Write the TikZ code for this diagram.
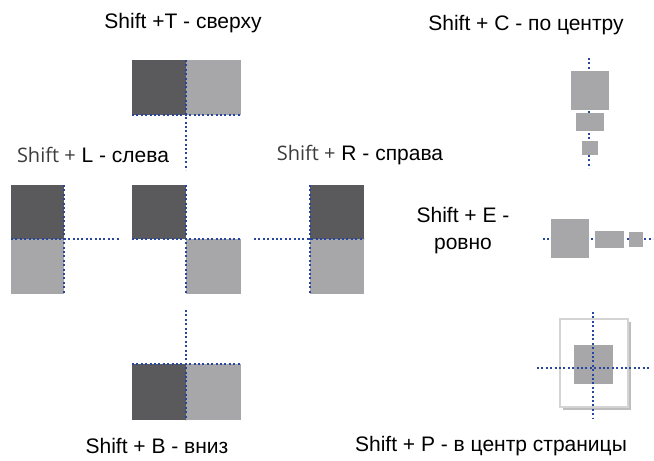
\documentclass[tikz,border=0pt]{standalone}
\usepackage{fontspec}
\setmainfont{Liberation Sans}
\newfontfamily\segoe{Open Sans}
\usepackage{xcolor}
\usepackage{tikz}
\usetikzlibrary{positioning}

\definecolor{darksq}{RGB}{90,90,92}
\definecolor{lightsq}{RGB}{167,167,169}
\definecolor{dotblue}{RGB}{40,70,160}
\definecolor{pageline}{RGB}{212,212,212}
\definecolor{pageshadow}{RGB}{190,190,190}
\definecolor{shiftgray}{RGB}{60,60,60}

\tikzset{
  sq/.style 2 args={draw=none,inner sep=0pt,outer sep=0pt,anchor=north west,
    minimum width=#1,minimum height=#2},
  dk/.style={fill=darksq},
  lt/.style={fill=lightsq},
  dots/.style={dotblue,line width=2.4pt,dash pattern=on 2pt off 2.4pt},
  lbl/.style={font=\fontsize{21}{27}\selectfont,inner sep=0pt,align=center}
}

\begin{document}
\begin{tikzpicture}[x=1pt,y=-1pt]
\useasboundingbox (0,0) rectangle (654,461);

% labels
\node[lbl] (tlab) at (183,23) {Shift +T - сверху};
\node[lbl] (llab) at (93,155) {{\segoe\fontsize{20}{24}\selectfont\color{shiftgray}Shift +} L - слева};
\node[lbl] (rlab) at (360,155) {{\segoe\fontsize{20}{24}\selectfont\color{shiftgray}Shift +} R - справа};
\node[lbl] (clab) at (526,25) {Shift + C - по центру};
\node[lbl] (elab) at (463,231) {Shift + E -\\ровно};
\node[lbl] (blab) at (157,446) {Shift + B - вниз};
\node[lbl] (plab) at (491,446) {Shift + P - в центр страницы};

% top (T)
\node[sq={54}{55},dk] (tdk) at (132,60) {};
\node[sq={55}{55},lt] (tlt) at (186,60) {};
\coordinate (tend) at (186,170);
\draw[dots] (tdk.south west) -- (tlt.south east);
\draw[dots] (tdk.north east) -- (tend);

% left (L)
\node[sq={53}{54},dk] (ldk) at (11,185) {};
\node[sq={53}{55},lt] (llt) at (11,239) {};
\coordinate (lend) at (120,239);
\draw[dots] (ldk.north east) -- (llt.south east);
\draw[dots] (llt.north west) -- (lend);

% middle
\node[sq={54}{54},dk] (mdk) at (132,185) {};
\node[sq={55}{55},lt] (mlt) at (186,239) {};
\draw[dots] (mdk.south west) -- (mlt.north east);
\draw[dots] (mdk.north east) -- (mlt.south west);

% right (R)
\node[sq={54}{54},dk] (rdk) at (310,185) {};
\node[sq={54}{55},lt] (rlt) at (310,239) {};
\coordinate (rend) at (254,239);
\draw[dots] (rdk.north west) -- (rlt.south west);
\draw[dots] (rend) -- (rlt.north east);

% bottom (B)
\node[sq={54}{56},dk] (bdk) at (132,364) {};
\node[sq={55}{56},lt] (blt) at (186,364) {};
\coordinate (bend) at (186,310);
\draw[dots] (bdk.north west) -- (blt.north east);
\draw[dots] (bend) -- (bdk.south east);

% center (C)
\coordinate (ctop) at (589,58);
\coordinate (cbot) at (589,168);
\draw[dots] (ctop) -- (cbot);
\node[sq={38}{39},lt] (cbig) at (571,71) {};
\node[sq={28}{18},lt] (cmid) at (576,113) {};
\node[sq={16}{14},lt] (csml) at (582,141) {};

% even (E)
\coordinate (eleft) at (543,239);
\coordinate (eright) at (653,239);
\draw[dots] (eleft) -- (eright);
\node[sq={38}{39},lt] (ebig) at (551,219) {};
\node[sq={29}{17},lt] (emid) at (595,231) {};
\node[sq={14}{15},lt] (esml) at (629,232) {};

% page (P)
\node[sq={68}{88},fill=pageshadow] (pshd) at (563,322) {};
\node[sq={68}{88},fill=white,draw=pageline,line width=1.5pt] (page) at (560,319) {};
\node[sq={39}{39},lt] (pbox) at (574,345) {};
\coordinate (ptop) at (593,312);
\coordinate (pbot) at (593,418);
\coordinate (pleft) at (537,368);
\coordinate (pright) at (649,368);
\draw[dots] (ptop) -- (pbot);
\draw[dots] (pleft) -- (pright);
\end{tikzpicture}
\end{document}
